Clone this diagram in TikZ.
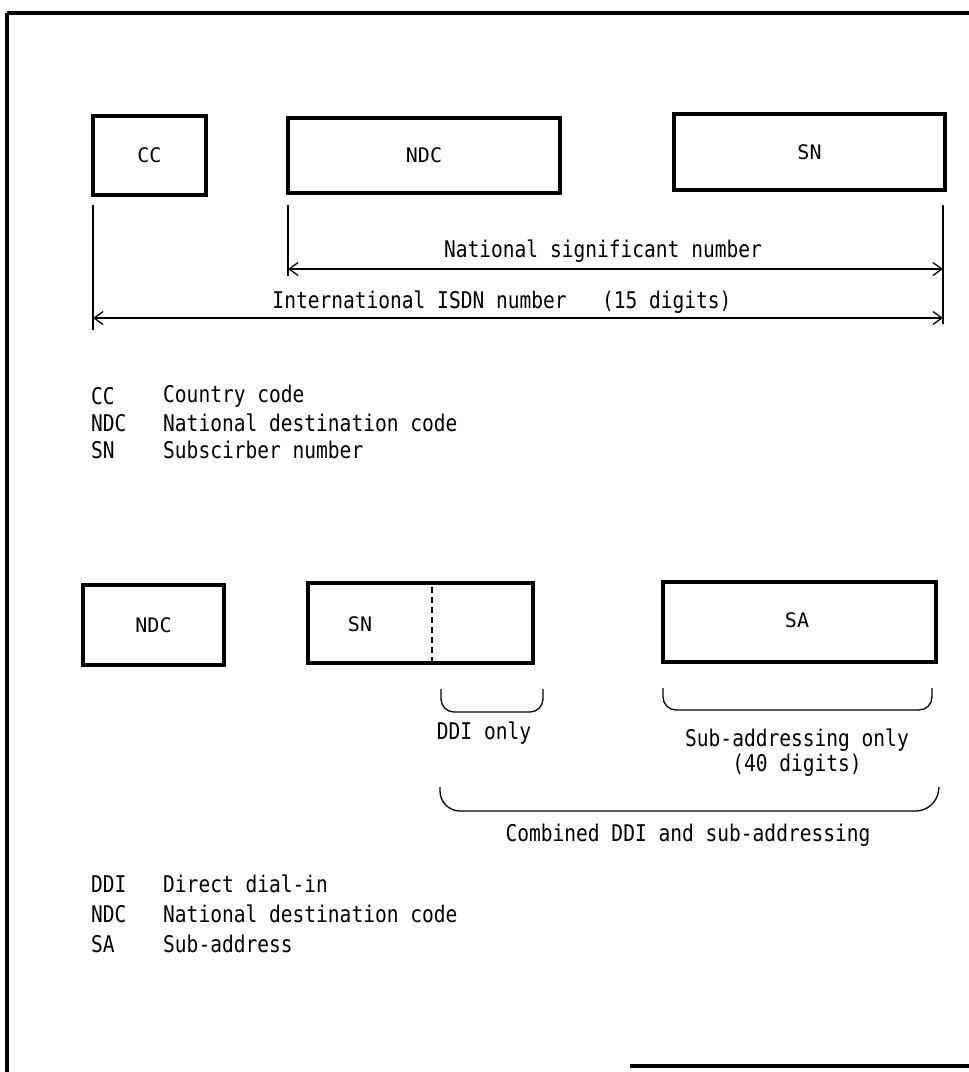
\documentclass[tikz,border=0pt]{standalone}
\usepackage{fontspec}
\setmainfont[FakeStretch=0.85]{DejaVu Sans Mono}
\newfontfamily\boxfont{DejaVu Sans Mono}
\usetikzlibrary{arrows.meta}
\begin{document}
\begin{tikzpicture}[x=1pt,y=-1pt,
  numbox/.style={draw, line width=3.5pt, inner sep=0pt, font=\boxfont\fontsize{20}{20}\selectfont},
  dimline/.style={line width=1.3pt},
  dimarrow/.style={line width=1.3pt, {Straight Barb[length=9pt,width=13pt]}-{Straight Barb[length=9pt,width=13pt]}},
  lbl/.style={inner sep=0pt, font=\fontsize{23}{23}\selectfont},
  legabbr/.style={anchor=west, inner sep=0pt, font=\fontsize{23}{23}\selectfont},
  brace/.style={line width=1.3pt, rounded corners=13pt},
  framel/.style={line width=3.5pt}]
\useasboundingbox (0,0) rectangle (969,1072);
% frame
\draw[framel] (7,13) -- (969,13);
\draw[framel] (7,13) -- (7,1072);
\draw[framel] (630,1066) -- (969,1066);

% top boxes
\node[numbox, minimum width=113pt, minimum height=79pt] (cc) at (149.5,155.5) {CC};
\node[numbox, minimum width=272pt, minimum height=75pt] (ndc) at (424,155.5) {NDC};
\node[numbox, minimum width=271pt, minimum height=76pt] (sn) at (809.5,152) {SN};

% dimension lines
\coordinate (ccT) at (93,205);  \coordinate (ccB) at (93,330);
\coordinate (ndcT) at (288,205); \coordinate (ndcB) at (288,276);
\coordinate (snT) at (943,205);  \coordinate (snB) at (943,324);
\draw[dimline] (ccT) -- (ccB);
\draw[dimline] (ndcT) -- (ndcB);
\draw[dimline] (snT) -- (snB);
\coordinate (nsnL) at (288,269); \coordinate (nsnR) at (943,269);
\coordinate (isdnL) at (93,318); \coordinate (isdnR) at (943,318);
\draw[dimarrow] (nsnL) -- (nsnR);
\draw[dimarrow] (isdnL) -- (isdnR);
\node[lbl] (nsnlbl) at (603,251) {National significant number};
\node[lbl] (isdnlbl) at (502,302) {International ISDN number\ \ \ (15 digits)};

% legend 1
\node[legabbr] (l1a) at (91,396) {CC};
\node[legabbr] (l1b) at (163,396) {Country code};
\node[legabbr] (l2a) at (91,423) {NDC};
\node[legabbr] (l2b) at (163,423) {National destination code};
\node[legabbr] (l3a) at (91,450) {SN};
\node[legabbr] (l3b) at (163,450) {Subscirber number};

% lower boxes
\node[numbox, minimum width=141pt, minimum height=80pt] (ndc2) at (153.5,625) {NDC};
\node[numbox, minimum width=225pt, minimum height=80pt] (sn2) at (420.5,623) {};
\node[font=\boxfont\fontsize{20}{20}\selectfont, inner sep=0pt] (sn2t) at (360,624) {SN};
\node[numbox, minimum width=273pt, minimum height=80pt] (sa) at (799.5,622) {};
\node[font=\boxfont\fontsize{20}{20}\selectfont, inner sep=0pt] (sat) at (797,620) {SA};
\coordinate (dashT) at (432,587);
\coordinate (dashB) at (432,661);
\draw[line width=1.3pt, dash pattern=on 6pt off 4pt] (dashT) -- (dashB);

% braces
\coordinate (b1a) at (441,689); \coordinate (b1b) at (441,712);
\coordinate (b1c) at (543,712); \coordinate (b1d) at (543,689);
\draw[brace] (b1a) -- (b1b) -- (b1c) -- (b1d);
\coordinate (b2a) at (663,688); \coordinate (b2b) at (663,710);
\coordinate (b2c) at (932,710); \coordinate (b2d) at (932,688);
\draw[brace] (b2a) -- (b2b) -- (b2c) -- (b2d);
\coordinate (b3a) at (440,787); \coordinate (b3b) at (440,811);
\coordinate (b3c) at (936,811); \coordinate (b3d) at (939,787);
\draw[brace, rounded corners=20pt] (b3a) -- (b3b) -- (b3c) -- (b3d);

\node[lbl] (ddionly) at (484,733) {DDI only};
\node[lbl, align=center] (saonly) at (797,753) {Sub-addressing only\\[2pt](40 digits)};
\node[lbl] (comb) at (688,835) {Combined DDI and sub-addressing};

% legend 2
\node[legabbr] (m1a) at (91,884) {DDI};
\node[legabbr] (m1b) at (163,884) {Direct dial-in};
\node[legabbr] (m2a) at (91,914) {NDC};
\node[legabbr] (m2b) at (163,914) {National destination code};
\node[legabbr] (m3a) at (91,944) {SA};
\node[legabbr] (m3b) at (163,944) {Sub-address};
\end{tikzpicture}
\end{document}
